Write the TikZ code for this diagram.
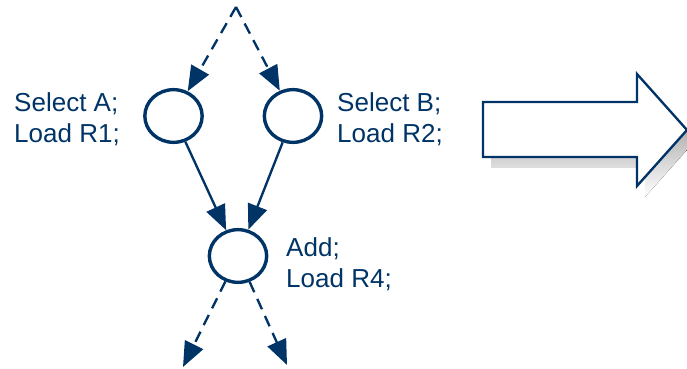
\documentclass[tikz,border=0pt]{standalone}
\usepackage{fontspec}
\setmainfont{Liberation Sans}
\usetikzlibrary{arrows.meta,shapes.geometric}
\definecolor{navy}{RGB}{0,51,102}
\definecolor{shade}{RGB}{140,140,140}

\begin{document}
\begin{tikzpicture}[x=0.03cm,y=-0.03cm,
    op/.style={draw=navy,line width=2.9pt,ellipse,inner sep=0pt,
      minimum width=1.72cm,minimum height=1.58cm},
    lbl/.style={text=navy,align=left,inner sep=0pt,anchor=north west,
      font=\fontsize{22.2}{26.5}\selectfont},
    flow/.style={draw=navy,line width=2pt,
      -{Triangle[length=0.75cm,width=0.6cm]}},
    ctrl/.style={flow,dash pattern=on 0.34cm off 0.22cm}]
  \useasboundingbox (0,0) rectangle (687,369);

  \coordinate (top) at (236,7);
  \node[op] (selA) at (173.5,116) {};
  \node[op] (selB) at (293,116) {};
  \node[op] (add) at (238,256) {};
  \coordinate (outL) at (183,367);
  \coordinate (outR) at (287,365);

  \node[lbl] (lblA) at (14,92.5) {Select A;\\Load R1;};
  \node[lbl] (lblB) at (337,92.5) {Select B;\\Load R2;};
  \node[lbl] (lblAdd) at (286,237) {Add;\\Load R4;};

  \draw[ctrl] (top) -- (selA);
  \draw[ctrl] (top) -- (selB);
  \draw[flow] (selA) -- (add);
  \draw[flow] (selB) -- (add);
  \draw[ctrl] (add) -- (outL);
  \draw[ctrl] (add) -- (outR);

  % block arrow with its shadow
  \fill[shade] (491,113) -- (645,113) -- (645,85) -- (695,141)
    -- (645,197) -- (645,168) -- (491,168) -- cycle;
  \draw[navy,line width=2pt,fill=white] (483,102) -- (637,102) -- (637,74)
    -- (687,130) -- (637,186) -- (637,157) -- (483,157) -- cycle;
\end{tikzpicture}
\end{document}
